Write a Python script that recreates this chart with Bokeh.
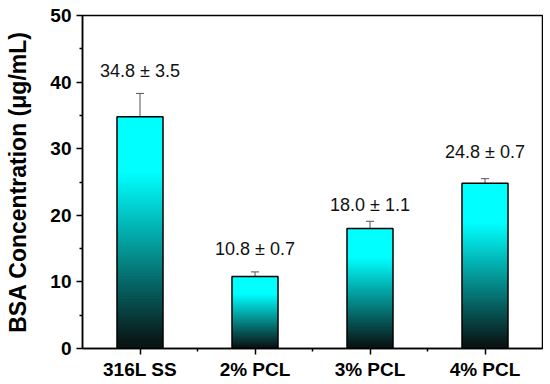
from bokeh.plotting import figure
from bokeh.models import ColumnDataSource, Whisker, FixedTicker, TeeHead
from bokeh.core.properties import value
from bokeh.embed import file_html
from bokeh.resources import INLINE

categories = ["316L SS", "2% PCL", "3% PCL", "4% PCL"]
means = [34.8, 10.8, 18.0, 24.8]
sds = [3.5, 0.7, 1.1, 0.7]
label_y = [41.7, 14.9, 21.6, 29.5]
y_ticks = [0, 10, 20, 30, 40, 50]

xs = list(range(len(categories)))
bar_w = 0.4
N = 80

def grad_color(t):
    f = min(1.0, 0.05 + t / 0.8)
    g = int(round(255 * f))
    r = int(round(10 * (1 - f)))
    return "#%02x%02x%02x" % (r, max(g, 22), max(g, 22))

# gradient: nested quads from bar top down, drawn tallest first
seg = dict(left=[], right=[], bottom=[], top=[], color=[])
for i in range(N, 0, -1):
    for x, m in zip(xs, means):
        seg["left"].append(x - bar_w / 2)
        seg["right"].append(x + bar_w / 2)
        seg["bottom"].append(0)
        seg["top"].append(m * i / N)
        seg["color"].append(grad_color((i - 0.5) / N))

p = figure(width=543, height=384, x_range=(-0.5, 3.5), y_range=(0, 50),
           output_backend="svg", toolbar_location=None,
           min_border_left=82, min_border_top=15, min_border_right=1, min_border_bottom=36)
p.quad(left="left", right="right", bottom="bottom", top="top", source=ColumnDataSource(seg),
       fill_color="color", line_color=None)
p.quad(left=[x - bar_w / 2 for x in xs], right=[x + bar_w / 2 for x in xs],
       bottom=0, top=means, fill_color=None, line_color="black", line_width=1.5)

src = ColumnDataSource(dict(x=xs, lower=[m - s for m, s in zip(means, sds)],
                            upper=[m + s for m, s in zip(means, sds)]))
w = Whisker(base="x", lower="lower", upper="upper", source=src, line_color="#555555", line_width=1,
            upper_head=TeeHead(size=8, line_color="#555555", line_width=1),
            lower_head=TeeHead(size=8, line_color="#555555", line_width=1))
p.add_layout(w)

p.text(x=xs, y=label_y, text=["%.1f ± %.1f" % (m, s) for m, s in zip(means, sds)],
       text_align="center", text_baseline="middle", text_font=value("Liberation Sans"),
       text_font_size="18px", text_color="#111111")

p.xgrid.visible = False
p.ygrid.visible = False
p.outline_line_color = "black"
p.outline_line_width = 1.5

p.xaxis.ticker = FixedTicker(ticks=xs, minor_ticks=[0.5, 1.5, 2.5])
p.xaxis.major_label_overrides = {i: c for i, c in enumerate(categories)}
p.yaxis.ticker = FixedTicker(ticks=y_ticks, minor_ticks=[5, 15, 25, 35, 45])
for ax in (p.xaxis, p.yaxis):
    ax.axis_line_width = 1.5
    ax.axis_line_color = "black"
    ax.major_tick_line_width = 1.5
    ax.minor_tick_line_width = 1.5
    ax.major_tick_in = 0
    ax.major_tick_out = 6
    ax.minor_tick_in = 0
    ax.minor_tick_out = 3
    ax.major_label_text_font = "Liberation Sans"
    ax.major_label_text_font_style = "bold"
    ax.major_label_text_font_size = "19px"
    ax.major_label_text_color = "black"
p.xaxis.major_label_standoff = 4
p.yaxis.major_label_standoff = 5
p.yaxis.axis_label = "BSA Concentration (μg/mL)"
p.yaxis.axis_label_text_font = "Liberation Sans"
p.yaxis.axis_label_text_font_style = "bold"
p.yaxis.axis_label_text_font_size = "23px"
p.yaxis.axis_label_text_color = "black"
p.yaxis.axis_label_standoff = 16

open("out.html", "w").write(file_html(p, INLINE))
